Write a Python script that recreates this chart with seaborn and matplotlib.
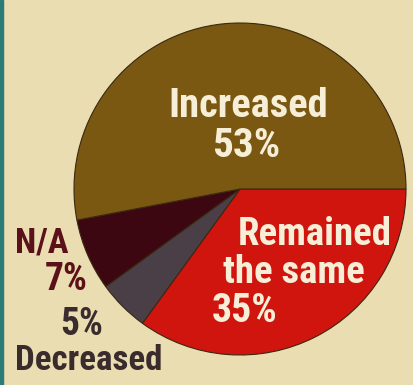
import matplotlib
matplotlib.use("Agg")
import matplotlib.pyplot as plt
from matplotlib import font_manager as fm
import seaborn as sns

# ---- data ----
categories = ["Remained the same", "Decreased", "N/A", "Increased"]
values = [35, 5, 7, 53]
slice_colors = ["#d0140e", "#4b3f47", "#3c0711", "#7a5812"]

sns.set_theme(style="white")
names = {f.name for f in fm.fontManager.ttflist}
fam = "DejaVu Sans"
for cand in ["Roboto Condensed", "Liberation Sans Narrow", "Open Sans Condensed", "Roboto"]:
    if cand in names:
        fam = cand
        break
plt.rcParams["font.family"] = [fam, "DejaVu Sans"]

BG = "#e9ddb1"
W, H = 414, 385
fig = plt.figure(figsize=(W / 100, H / 100), dpi=100, facecolor=BG)
ax = fig.add_axes([0, 0, 1, 1])
ax.set_facecolor(BG)

ax.pie(values, colors=slice_colors, startangle=0, counterclock=False,
       center=(240, H - 189), radius=166, frame=False,
       wedgeprops=dict(edgecolor="#3a2810", linewidth=0.8))
ax.set_xlim(0, W)
ax.set_ylim(0, H)
ax.set_aspect("equal", adjustable="box")
ax.axis("off")

renderer = fig.canvas.get_renderer()
cream = "#f6eed6"

def lab(x, ybase, s, width, size, color, fit=True):
    t = ax.text(x, H - ybase, s, fontsize=size, color=color, fontweight="bold",
                ha="left", va="baseline")
    if fit:
        w = t.get_window_extent(renderer).width
        t.set_fontsize(size * width / w)
    return t

lab(168, 117, "Increased", 160, 27, cream)
lab(212, 157, "53%", 68, 27, cream)
lab(238, 245, "Remained", 154, 26, cream)
lab(223, 283, "the same", 142, 26, cream)
lab(212, 322, "35%", 66, 26, cream)
lab(15, 253, "N/A", 56, 25, "#5c1019", fit=False)
lab(45, 290, "7%", 43, 22, "#5c1019")
lab(60, 335, "5%", 43, 23, "#3a2b2c")
lab(15, 370, "Decreased", 148, 23, "#3a2b2c")

# teal left border
fig.patches.append(plt.Rectangle((0, 0), 3 / W, 1, transform=fig.transFigure,
                                 color="#2b7b78", zorder=5))

fig.savefig("out.png", dpi=100, facecolor=BG)
